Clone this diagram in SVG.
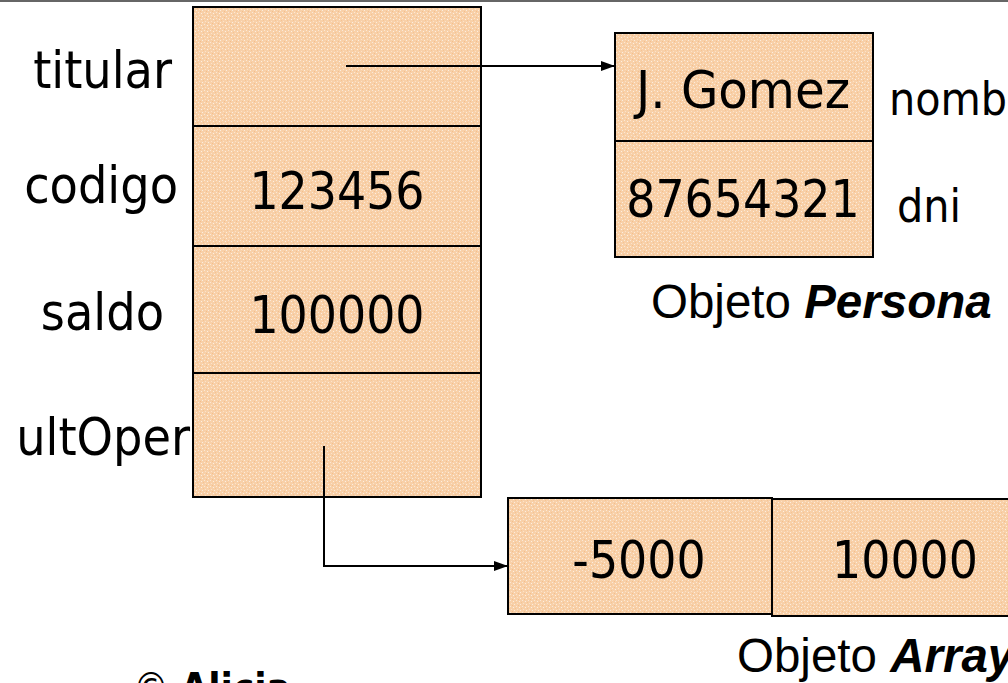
<svg xmlns="http://www.w3.org/2000/svg" width="1008" height="683" viewBox="0 0 1008 683">
  <style>
    .cell { fill: url(#peach); stroke: #000; stroke-width: 2; }
    .lbl { font-family: "DejaVu Sans Condensed", "DejaVu Sans", sans-serif; font-stretch: condensed; fill: #000; }
    .big { font-size: 51px; }
    .mid { font-size: 51.5px; }
    .side { font-size: 46px; }
    .cap { font-family: "Liberation Sans", Arial, sans-serif; font-size: 47.5px; fill: #000; }
    .wire { fill: none; stroke: #000; stroke-width: 2; }
  </style>
  <defs>
    <!-- speckled peach fill -->
    <pattern id="peach" width="6" height="6" patternUnits="userSpaceOnUse">
      <rect width="6" height="6" fill="#F8D0A8"/>
      <rect x="0" y="0" width="1" height="1" fill="#FCE8D5"/>
      <rect x="3" y="1" width="1" height="1" fill="#FDEFE2"/>
      <rect x="1" y="3" width="1" height="1" fill="#FBE2CA"/>
      <rect x="4" y="4" width="1" height="1" fill="#FDEDDC"/>
      <rect x="2" y="5" width="1" height="1" fill="#F4BE8C"/>
      <rect x="5" y="2" width="1" height="1" fill="#F5C393"/>
    </pattern>
    <marker id="arrow" markerWidth="14" markerHeight="12" refX="13" refY="6" orient="auto" markerUnits="userSpaceOnUse">
      <path d="M0,1 L14,6 L0,11 Z" fill="#000"/>
    </marker>
  </defs>

  <!-- top rule -->
  <line x1="0" y1="1" x2="1008" y2="1" stroke="#666" stroke-width="2"/>

  <!-- Cuenta object: field stack -->
  <g id="cuenta">
    <rect class="cell" x="193" y="7" width="288" height="119"/>
    <rect class="cell" x="193" y="126" width="288" height="120"/>
    <rect class="cell" x="193" y="246" width="288" height="127"/>
    <rect class="cell" x="193" y="373" width="288" height="124"/>
    <text class="lbl mid" x="172" y="88" text-anchor="end">titular</text>
    <text class="lbl mid" x="178" y="203" text-anchor="end">codigo</text>
    <text class="lbl mid" x="164" y="330" text-anchor="end">saldo</text>
    <text class="lbl mid" x="190" y="455" text-anchor="end">ultOper</text>
    <text class="lbl big" x="337" y="209" text-anchor="middle">123456</text>
    <text class="lbl big" x="337" y="333" text-anchor="middle">100000</text>
  </g>

  <!-- Persona object -->
  <g id="persona">
    <rect class="cell" x="615" y="33" width="258" height="108"/>
    <rect class="cell" x="615" y="141" width="258" height="116"/>
    <text class="lbl big" x="636" y="108" textLength="214" lengthAdjust="spacingAndGlyphs">J. Gomez</text>
    <text class="lbl big" x="743" y="217" text-anchor="middle">87654321</text>
    <text class="lbl side" x="889" y="115">nomb</text>
    <text class="lbl side" x="897" y="222">dni</text>
    <text class="cap" x="651" y="318">Objeto <tspan font-weight="bold" font-style="italic">Persona</tspan></text>
  </g>

  <!-- Array object -->
  <g id="array">
    <rect class="cell" x="508" y="498" width="264" height="116"/>
    <rect class="cell" x="772" y="499" width="250" height="117"/>
    <text class="lbl big" x="639" y="578" text-anchor="middle">-5000</text>
    <text class="lbl big" x="905" y="578" text-anchor="middle">10000</text>
    <text class="cap" x="737" y="672">Objeto <tspan font-weight="bold" font-style="italic">Array</tspan></text>
  </g>

  <!-- references -->
  <g id="connectors">
    <path class="wire" d="M346,66 L614,66" marker-end="url(#arrow)"/>
    <path class="wire" d="M324,446 L324,566 L507,566" marker-end="url(#arrow)"/>
  </g>

  <!-- footer -->
  <text x="133" y="702" font-family="DejaVu Sans Condensed, DejaVu Sans, sans-serif" font-size="40" fill="#000">© <tspan font-weight="bold">Alicia</tspan></text>
</svg>
